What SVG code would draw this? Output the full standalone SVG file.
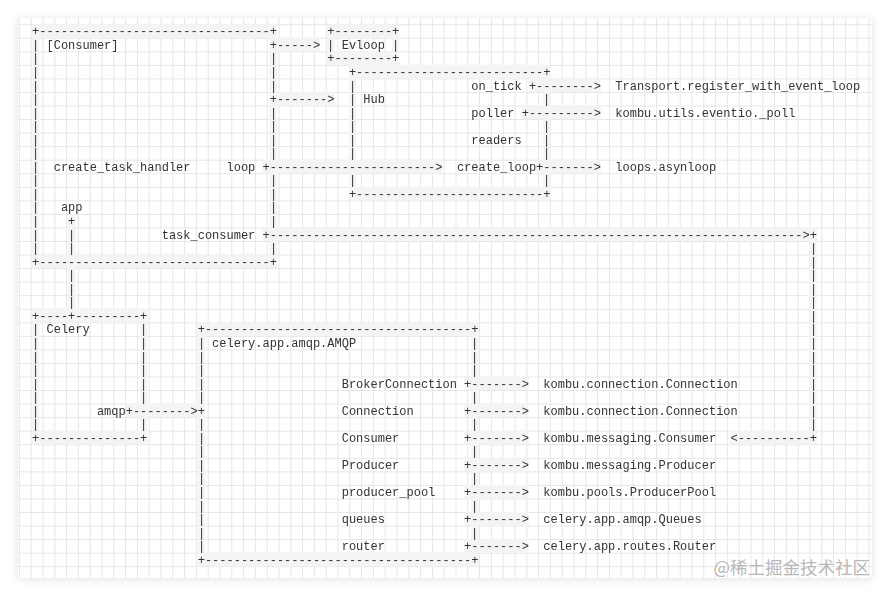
<svg xmlns="http://www.w3.org/2000/svg" width="891" height="596" viewBox="0 0 891 596">
<defs>
<style>
.t{font-family:"Liberation Mono","Courier New",monospace;font-size:12px;fill:#333}
.b{fill:#f4f4f4}
.wm{font-family:"Noto Sans CJK SC","Noto Sans",sans-serif;font-size:17.5px;fill:#b8b8b8}
</style>
<pattern id="grid" x="7.1" y="24.22" width="11.8" height="13.55" patternUnits="userSpaceOnUse">
<path d="M0 0.5H11.8M0.5 0V13.55" stroke="#e6e6e6" stroke-width="1" fill="none"/>
</pattern>
<filter id="sh" x="-5%" y="-5%" width="110%" height="110%">
<feDropShadow dx="0" dy="1" stdDeviation="4" flood-color="#000" flood-opacity="0.13"/>
</filter>
</defs>
<rect width="891" height="596" fill="#fff"/>
<rect x="18" y="18" width="854" height="560" rx="4" fill="#fff" filter="url(#sh)"/>
<rect x="18" y="18" width="854" height="560" rx="4" fill="url(#grid)"/>

<g id="bands">
<rect class="b" x="32.1" y="24.22" width="244.8" height="13.55"/>
<rect class="b" x="327.3" y="24.22" width="72" height="13.55"/>
<rect class="b" x="327.3" y="51.32" width="72" height="13.55"/>
<rect class="b" x="269.7" y="37.77" width="50.4" height="13.55"/>
<rect class="b" x="348.9" y="64.87" width="201.6" height="13.55"/>
<rect class="b" x="528.9" y="78.42" width="72" height="13.55"/>
<rect class="b" x="269.7" y="91.97" width="64.8" height="13.55"/>
<rect class="b" x="521.7" y="105.52" width="79.2" height="13.55"/>
<rect class="b" x="262.5" y="159.72" width="180" height="13.55"/>
<rect class="b" x="536.1" y="159.72" width="64.8" height="13.55"/>
<rect class="b" x="348.9" y="186.82" width="201.6" height="13.55"/>
<rect class="b" x="262.5" y="227.47" width="554.4" height="13.55"/>
<rect class="b" x="32.1" y="254.57" width="244.8" height="13.55"/>
<rect class="b" x="32.1" y="308.77" width="115.2" height="13.55"/>
<rect class="b" x="197.7" y="322.32" width="280.8" height="13.55"/>
<rect class="b" x="464.1" y="376.52" width="64.8" height="13.55"/>
<rect class="b" x="464.1" y="403.62" width="64.8" height="13.55"/>
<rect class="b" x="464.1" y="430.72" width="64.8" height="13.55"/>
<rect class="b" x="464.1" y="457.82" width="64.8" height="13.55"/>
<rect class="b" x="464.1" y="484.92" width="64.8" height="13.55"/>
<rect class="b" x="464.1" y="512.02" width="64.8" height="13.55"/>
<rect class="b" x="464.1" y="539.12" width="64.8" height="13.55"/>
<rect class="b" x="125.7" y="403.62" width="79.2" height="13.55"/>
<rect class="b" x="32.1" y="430.72" width="115.2" height="13.55"/>
<rect class="b" x="730.5" y="430.72" width="86.4" height="13.55"/>
<rect class="b" x="197.7" y="552.67" width="280.8" height="13.55"/>
<rect class="b" x="32.1" y="24.22" width="7.2" height="243.9"/>
<rect class="b" x="269.7" y="24.22" width="7.2" height="243.9"/>
<rect class="b" x="68.1" y="213.92" width="7.2" height="108.4"/>
<rect class="b" x="348.9" y="64.87" width="7.2" height="135.5"/>
<rect class="b" x="543.3" y="64.87" width="7.2" height="135.5"/>
<rect class="b" x="327.3" y="24.22" width="7.2" height="40.65"/>
<rect class="b" x="392.1" y="24.22" width="7.2" height="40.65"/>
<rect class="b" x="809.7" y="227.47" width="7.2" height="216.8"/>
<rect class="b" x="32.1" y="308.77" width="7.2" height="135.5"/>
<rect class="b" x="140.1" y="308.77" width="7.2" height="135.5"/>
<rect class="b" x="197.7" y="322.32" width="7.2" height="243.9"/>
<rect class="b" x="471.3" y="322.32" width="7.2" height="243.9"/>
</g>

<g opacity="0.999">
<g id="consumer">
<text class="t" x="32.1" y="35.3" textLength="244.8" lengthAdjust="spacing">+--------------------------------+</text>
<text class="t" x="32.1" y="265.65" textLength="244.8" lengthAdjust="spacing">+--------------------------------+</text>
<text class="t" x="31.9 31.9 31.9 31.9 31.9 31.9 31.9 31.9 31.9 31.9 31.9 31.9 31.9 31.9 31.9 31.9" y="48.85 62.4 75.95 89.5 103.05 116.6 130.15 143.7 157.25 170.8 184.35 197.9 211.45 225 238.55 252.1">||||||||||||||||</text>
<text class="t" x="269.9 269.9 269.9" y="62.4 75.95 89.5">|||</text>
<text class="t" x="269.9 269.9 269.9 269.9" y="116.6 130.15 143.7 157.25">||||</text>
<text class="t" x="269.9 269.9 269.9 269.9" y="184.35 197.9 211.45 225">||||</text>
<text class="t" x="269.9" y="252.1">|</text>
<text class="t" x="46.5" y="48.85">[Consumer]</text>
<text class="t" x="53.7" y="170.8">create_task_handler</text>
<text class="t" x="226.5" y="170.8">loop</text>
<text class="t" x="60.9" y="211.45">app</text>
<text class="t" x="161.7" y="238.55">task_consumer</text>
</g>

<g id="evloop">
<text class="t" x="327.3" y="35.3" textLength="72" lengthAdjust="spacing">+--------+</text>
<text class="t" x="326.9" y="48.85">|</text>
<text class="t" x="341.7" y="48.85">Evloop</text>
<text class="t" x="391.9" y="48.85">|</text>
<text class="t" x="327.3" y="62.4" textLength="72" lengthAdjust="spacing">+--------+</text>
</g>

<g id="hub">
<text class="t" x="348.9" y="75.95" textLength="201.6" lengthAdjust="spacing">+--------------------------+</text>
<text class="t" x="348.9" y="197.9" textLength="201.6" lengthAdjust="spacing">+--------------------------+</text>
<text class="t" x="348.9 348.9 348.9 348.9 348.9 348.9" y="89.5 103.05 116.6 130.15 143.7 157.25">||||||</text>
<text class="t" x="348.9" y="184.35">|</text>
<text class="t" x="542.9" y="103.05">|</text>
<text class="t" x="542.9 542.9 542.9" y="130.15 143.7 157.25">|||</text>
<text class="t" x="542.9" y="184.35">|</text>
<text class="t" x="363.3" y="103.05">Hub</text>
<text class="t" x="471.3" y="89.5">on_tick</text>
<text class="t" x="471.3" y="116.6">poller</text>
<text class="t" x="471.3" y="143.7">readers</text>
<text class="t" x="456.9" y="170.8">create_loop</text>
</g>

<g id="transport">
<text class="t" x="615.3" y="89.5">Transport.register_with_event_loop</text>
</g>
<g id="eventio-poll">
<text class="t" x="615.3" y="116.6">kombu.utils.eventio._poll</text>
</g>
<g id="asynloop">
<text class="t" x="615.3" y="170.8">loops.asynloop</text>
</g>

<g id="celery">
<text class="t" x="32.1" y="319.85" textLength="115.2" lengthAdjust="spacing">+----+---------+</text>
<text class="t" x="32.1" y="441.8" textLength="115.2" lengthAdjust="spacing">+--------------+</text>
<text class="t" x="31.9 31.9 31.9 31.9 31.9 31.9 31.9 31.9" y="333.4 346.95 360.5 374.05 387.6 401.15 414.7 428.25">||||||||</text>
<text class="t" x="139.9 139.9 139.9 139.9 139.9 139.9" y="333.4 346.95 360.5 374.05 387.6 401.15">||||||</text>
<text class="t" x="139.9" y="428.25">|</text>
<text class="t" x="46.5" y="333.4">Celery</text>
<text class="t" x="96.9" y="414.7">amqp</text>
</g>

<g id="amqp">
<text class="t" x="197.7" y="333.4" textLength="280.8" lengthAdjust="spacing">+-------------------------------------+</text>
<text class="t" x="197.7" y="563.75" textLength="280.8" lengthAdjust="spacing">+-------------------------------------+</text>
<text class="t" x="197.9 197.9 197.9 197.9 197.9" y="346.95 360.5 374.05 387.6 401.15">|||||</text>
<text class="t" x="197.9 197.9 197.9 197.9 197.9 197.9 197.9 197.9 197.9 197.9" y="428.25 441.8 455.35 468.9 482.45 496 509.55 523.1 536.65 550.2">||||||||||</text>
<text class="t" x="470.9 470.9 470.9" y="346.95 360.5 374.05">|||</text>
<text class="t" x="470.9" y="401.15">|</text>
<text class="t" x="470.9" y="428.25">|</text>
<text class="t" x="470.9" y="455.35">|</text>
<text class="t" x="470.9" y="482.45">|</text>
<text class="t" x="470.9" y="509.55">|</text>
<text class="t" x="470.9" y="536.65">|</text>
<text class="t" x="212.1" y="346.95">celery.app.amqp.AMQP</text>
<text class="t" x="341.7" y="387.6">BrokerConnection</text>
<text class="t" x="341.7" y="414.7">Connection</text>
<text class="t" x="341.7" y="441.8">Consumer</text>
<text class="t" x="341.7" y="468.9">Producer</text>
<text class="t" x="341.7" y="496">producer_pool</text>
<text class="t" x="341.7" y="523.1">queues</text>
<text class="t" x="341.7" y="550.2">router</text>
</g>

<g id="kombu-connection-1"><text class="t" x="543.3" y="387.6">kombu.connection.Connection</text></g>
<g id="kombu-connection-2"><text class="t" x="543.3" y="414.7">kombu.connection.Connection</text></g>
<g id="kombu-consumer"><text class="t" x="543.3" y="441.8">kombu.messaging.Consumer</text></g>
<g id="kombu-producer"><text class="t" x="543.3" y="468.9">kombu.messaging.Producer</text></g>
<g id="kombu-producerpool"><text class="t" x="543.3" y="496">kombu.pools.ProducerPool</text></g>
<g id="celery-queues"><text class="t" x="543.3" y="523.1">celery.app.amqp.Queues</text></g>
<g id="celery-router"><text class="t" x="543.3" y="550.2">celery.app.routes.Router</text></g>

<g id="connectors">
<text class="t" x="269.7" y="48.85" textLength="50.4" lengthAdjust="spacing">+-----&gt;</text>
<text class="t" x="269.7" y="103.05" textLength="64.8" lengthAdjust="spacing">+-------&gt;</text>
<text class="t" x="528.9" y="89.5" textLength="72" lengthAdjust="spacing">+--------&gt;</text>
<text class="t" x="521.7" y="116.6" textLength="79.2" lengthAdjust="spacing">+---------&gt;</text>
<text class="t" x="262.5" y="170.8" textLength="180" lengthAdjust="spacing">+-----------------------&gt;</text>
<text class="t" x="536.1" y="170.8" textLength="64.8" lengthAdjust="spacing">+-------&gt;</text>
<text class="t" x="262.5" y="238.55" textLength="554.4" lengthAdjust="spacing">+--------------------------------------------------------------------------&gt;+</text>
<text class="t" x="809.9 809.9 809.9 809.9 809.9 809.9 809.9 809.9 809.9 809.9 809.9 809.9 809.9 809.9" y="252.1 265.65 279.2 292.75 306.3 319.85 333.4 346.95 360.5 374.05 387.6 401.15 414.7 428.25">||||||||||||||</text>
<text class="t" x="730.5" y="441.8" textLength="86.4" lengthAdjust="spacing">&lt;----------+</text>
<text class="t" x="68.1" y="225">+</text>
<text class="t" x="67.9 67.9" y="238.55 252.1">||</text>
<text class="t" x="67.9 67.9 67.9" y="279.2 292.75 306.3">|||</text>
<text class="t" x="125.7" y="414.7" textLength="79.2" lengthAdjust="spacing">+--------&gt;+</text>
<text class="t" x="464.1" y="387.6" textLength="64.8" lengthAdjust="spacing">+-------&gt;</text>
<text class="t" x="464.1" y="414.7" textLength="64.8" lengthAdjust="spacing">+-------&gt;</text>
<text class="t" x="464.1" y="441.8" textLength="64.8" lengthAdjust="spacing">+-------&gt;</text>
<text class="t" x="464.1" y="468.9" textLength="64.8" lengthAdjust="spacing">+-------&gt;</text>
<text class="t" x="464.1" y="496" textLength="64.8" lengthAdjust="spacing">+-------&gt;</text>
<text class="t" x="464.1" y="523.1" textLength="64.8" lengthAdjust="spacing">+-------&gt;</text>
<text class="t" x="464.1" y="550.2" textLength="64.8" lengthAdjust="spacing">+-------&gt;</text>
</g>
</g>

<text class="wm" x="870" y="573.5" text-anchor="end">@稀土掘金技术社区</text>
</svg>
